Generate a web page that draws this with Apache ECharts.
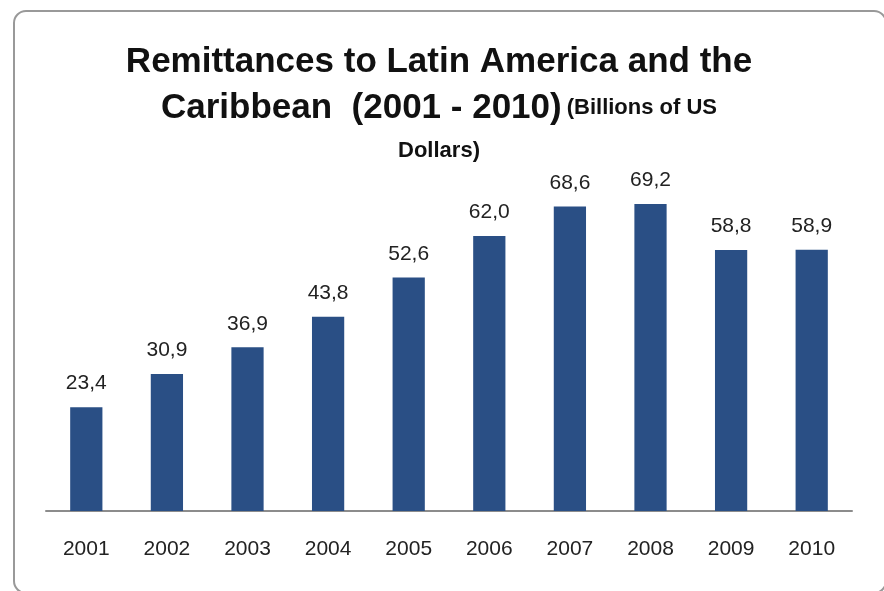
<!DOCTYPE html>
<html><head><meta charset="utf-8">
<script src="https://cdn.jsdelivr.net/npm/echarts@6/dist/echarts.min.js"></script>
<style>html,body{margin:0;padding:0;background:#fff}#c{width:884px;height:591px}</style>
</head><body><div id="c"></div>
<script>
const years = ['2001','2002','2003','2004','2005','2006','2007','2008','2009','2010'];
const remittances = [23.4, 30.9, 36.9, 43.8, 52.6, 62.0, 68.6, 69.2, 58.8, 58.9];
const titleLine1 = 'Remittances to Latin America and the';
const titleLine2 = 'Caribbean  (2001 - 2010)';
const unitPart1 = '(Billions of US';
const unitPart2 = 'Dollars)';

const chart = echarts.init(document.getElementById('c'));
chart.setOption({
  animation: false,
  backgroundColor: '#fff',
  graphic: [{
    type: 'rect', left: 13, top: 10, z: -1,
    shape: { width: 872, height: 582, r: 12 },
    style: { fill: '#fff', stroke: '#999', lineWidth: 2 }
  }],
  title: {
    left: 434, top: 34, textAlign: 'center',
    text: '{t|' + titleLine1 + '}\n{t|' + titleLine2 + '} {s|' + unitPart1 + '}\n{s|' + unitPart2 + '}',
    textStyle: {
      rich: {
        t: { fontFamily: 'Liberation Sans', fontWeight: 'bold', fontSize: 35, color: '#111', lineHeight: 46 },
        s: { fontFamily: 'Liberation Sans', fontWeight: 'bold', fontSize: 22, color: '#111', lineHeight: 40 }
      }
    }
  },
  grid: { left: 46, right: 32, top: 156, bottom: 80 },
  xAxis: {
    type: 'category', data: years,
    axisLine: { lineStyle: { color: '#8c8c8c', width: 2 } },
    axisTick: { show: false },
    axisLabel: { color: '#222', fontFamily: 'Liberation Sans', fontSize: 21, margin: 28 }
  },
  yAxis: {
    type: 'value', min: 0, max: 80, interval: 10, show: false,
    splitLine: { show: false }
  },
  series: [{
    type: 'bar', data: remittances, barWidth: '40%',
    itemStyle: { color: '#2A4F85' },
    label: {
      show: true, position: 'top', distance: 13,
      color: '#222', fontFamily: 'Liberation Sans', fontSize: 21,
      formatter: p => p.value.toFixed(1).replace('.', ',')
    }
  }]
});
</script></body></html>
